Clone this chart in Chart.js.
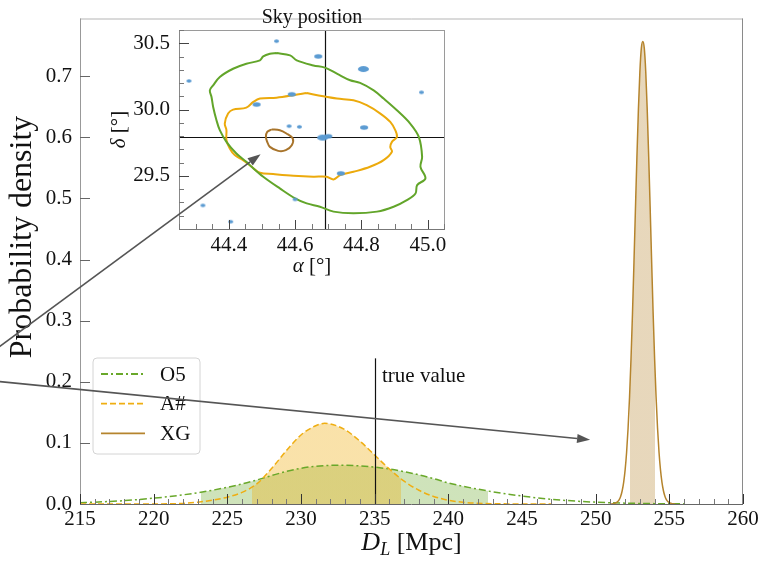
<!DOCTYPE html>
<html>
<head>
<meta charset="utf-8">
<title>Luminosity distance posterior</title>
<script src="https://cdn.jsdelivr.net/npm/chart.js@4.4.1/dist/chart.umd.min.js"></script>
<style>
  html, body { margin: 0; padding: 0; background: #fff; }
  #wrap { position: relative; width: 772px; height: 561px; }
  #wrap canvas { position: absolute; left: 0; top: 0; }
</style>
</head>
<body>
<div id="wrap">
  <canvas id="dlChart" width="772" height="561"></canvas>
  <canvas id="skyChart" width="772" height="561"></canvas>
</div>
<script>
// ---- luminosity distance posteriors (Mpc, density) ----
const o5Dist = [215, 216, 217, 218, 219, 220, 221, 222, 223, 224, 225, 226, 227, 228, 229, 230,
                231, 232, 233, 234, 235, 236, 237, 238, 239, 240, 241, 242, 243, 244, 245, 246,
                247, 248, 249, 250, 251, 252, 253, 254, 255, 256];
const o5Density = [0.0022, 0.0030, 0.0041, 0.0055, 0.0073, 0.0095, 0.0120, 0.0150, 0.0185, 0.0226,
                   0.0273, 0.0328, 0.0393, 0.0465, 0.0533, 0.0585, 0.0617, 0.0632, 0.0634, 0.0623,
                   0.0603, 0.0572, 0.0530, 0.0478, 0.0415, 0.0345, 0.0290, 0.0243, 0.0200, 0.0162,
                   0.0130, 0.0101, 0.0077, 0.0058, 0.0042, 0.0030, 0.0021, 0.0014, 0.0009, 0.0006,
                   0.0004, 0.0002];

const ashDist = [215, 218, 220, 221, 222, 223, 224, 225, 226, 227, 228, 229, 230, 231, 231.6, 232,
                 233, 234, 235, 236, 237, 238, 239, 240, 241, 242, 243, 244, 245, 247];
const ashDensity = [0, 0, 0.0001, 0.0003, 0.0010, 0.0030, 0.0062, 0.0112, 0.0190, 0.0330, 0.0580,
                    0.0870, 0.1130, 0.1280, 0.1320, 0.1311, 0.1213, 0.1029, 0.0801, 0.0572, 0.0374,
                    0.0225, 0.0124, 0.0062, 0.0029, 0.0012, 0.0005, 0.0002, 0.0001, 0];

const xgDist = [251.0, 251.2, 251.3, 251.4, 251.5, 251.6, 251.7, 251.8, 251.9, 252.0, 252.1, 252.2,
                252.3, 252.4, 252.5, 252.6, 252.7, 252.8, 252.9, 253.0, 253.1, 253.2, 253.3, 253.4,
                253.5, 253.6, 253.7, 253.8, 253.9, 254.0, 254.1, 254.2, 254.3, 254.4, 254.5, 254.6,
                254.7, 254.8, 254.9, 255.0, 255.1, 255.2, 255.4];
const xgDensity = [0, 0.0005, 0.0011, 0.0021, 0.0040, 0.0073, 0.0128, 0.0217, 0.0354, 0.0558, 0.0847,
                   0.124, 0.175, 0.238, 0.312, 0.396, 0.483, 0.568, 0.645, 0.707, 0.746, 0.757, 0.746,
                   0.707, 0.645, 0.568, 0.483, 0.396, 0.312, 0.238, 0.175, 0.124, 0.0847, 0.0558,
                   0.0354, 0.0217, 0.0128, 0.0073, 0.0040, 0.0021, 0.0011, 0.0005, 0];

// shaded credible intervals
const o5Interval = [223.2, 242.7];
const ashInterval = [226.7, 236.8];
const xgInterval = [252.3, 254.05];

const trueDistance = 235;
const seriesNames = ['O5', 'A#', 'XG'];
const distTicks = [215, 220, 225, 230, 235, 240, 245, 250, 255, 260];
const densityTicks = [0, 0.1, 0.2, 0.3, 0.4, 0.5, 0.6, 0.7];

// ---- sky localisation contours (deg) ----
const o5Ra = [44.544, 44.585, 44.605, 44.655, 44.690, 44.726, 44.766, 44.796, 44.837, 44.867, 44.907,
              44.947, 44.973, 44.983, 44.978, 44.993, 44.968, 44.963, 44.937, 44.897, 44.847, 44.776,
              44.716, 44.675, 44.635, 44.600, 44.554, 44.504, 44.469, 44.453, 44.423, 44.393, 44.373,
              44.363, 44.353, 44.348, 44.343, 44.353, 44.373, 44.413, 44.453, 44.494, 44.504, 44.524];
const o5Dec = [30.426, 30.409, 30.371, 30.333, 30.316, 30.271, 30.221, 30.201, 30.145, 30.083, 29.995,
               29.895, 29.794, 29.644, 29.569, 29.481, 29.431, 29.368, 29.318, 29.268, 29.231, 29.218,
               29.231, 29.268, 29.293, 29.331, 29.406, 29.494, 29.569, 29.607, 29.669, 29.757, 29.845,
               29.920, 30.020, 30.095, 30.145, 30.183, 30.246, 30.308, 30.346, 30.371, 30.401, 30.421];

const ashRa = [44.635, 44.685, 44.726, 44.776, 44.816, 44.857, 44.887, 44.902, 44.907, 44.892, 44.887,
               44.892, 44.867, 44.826, 44.776, 44.736, 44.716, 44.695, 44.655, 44.595, 44.534, 44.494,
               44.469, 44.443, 44.418, 44.403, 44.393, 44.393, 44.388, 44.398, 44.413, 44.453, 44.474,
               44.494, 44.544, 44.595];
const ashDec = [30.125, 30.100, 30.083, 30.070, 30.033, 29.970, 29.907, 29.845, 29.794, 29.757, 29.719,
                29.682, 29.619, 29.569, 29.531, 29.506, 29.474, 29.494, 29.494, 29.501, 29.514, 29.524,
                29.569, 29.619, 29.657, 29.707, 29.769, 29.845, 29.895, 29.970, 30.000, 30.015, 30.058,
                30.083, 30.090, 30.108];

const xgRa = [44.529, 44.554, 44.574, 44.593, 44.590, 44.572, 44.549, 44.524, 44.516, 44.512, 44.516];
const xgDec = [29.850, 29.845, 29.820, 29.782, 29.732, 29.694, 29.689, 29.719, 29.757, 29.794, 29.832];

// candidate host galaxies
const galaxyRa = [44.544, 44.670, 44.806, 44.280, 44.981, 44.590, 44.484, 44.582, 44.613, 44.808,
                  44.683, 44.700, 44.738, 44.600, 44.322, 44.406];
const galaxyDec = [30.516, 30.401, 30.306, 30.216, 30.130, 30.115, 30.038, 29.875, 29.870, 29.865,
                   29.789, 29.799, 29.519, 29.323, 29.278, 29.155];
const galaxyWeight = [1, 2, 3, 1, 1, 2, 2, 1, 1, 2, 3, 2, 2, 1, 1, 1];

const trueRa = 44.69;
const trueDec = 29.794;
const raTicks = [44.4, 44.6, 44.8, 45.0];
const decTicks = [29.5, 30.0, 30.5];

// ---- styling ----
const FONT = "'Liberation Serif', 'Times New Roman', serif";
const INK = '#111';
const lineColor = { o5: '#69a82a', ash: '#efae12', xg: '#b5842d' };
const fillColor = { o5: 'rgba(105,168,42,0.32)', ash: 'rgba(239,174,18,0.36)', xg: 'rgba(181,132,45,0.32)' };
const contourColor = { o5: '#62a52a', ash: '#ecaa0c', xg: '#a8742b' };
const dash = { o5: [7, 3, 2, 3], ash: [6, 3], xg: [] };

function toPoints(xs, ys) {
    return xs.map((x, i) => ({ x: x, y: ys[i] }));
}

function closedPoints(xs, ys) {
    const pts = toPoints(xs, ys);
    pts.push({ x: xs[0], y: ys[0] });
    return pts;
}

// fill only under [lo, hi] by using a hard-edged horizontal gradient
function bandFill(interval, color) {
    return function(context) {
        const chart = context.chart;
        const area = chart.chartArea;
        if (!area || !chart.scales.x) return 'rgba(255,255,255,0)';
        const xs = chart.scales.x;
        const w = area.right - area.left;
        const p0 = Math.min(Math.max((xs.getPixelForValue(interval[0]) - area.left) / w, 0), 1);
        const p1 = Math.min(Math.max((xs.getPixelForValue(interval[1]) - area.left) / w, 0), 1);
        const g = chart.ctx.createLinearGradient(area.left, 0, area.right, 0);
        const clear = 'rgba(255,255,255,0)';
        g.addColorStop(0, clear);
        g.addColorStop(p0, clear);
        g.addColorStop(p0, color);
        g.addColorStop(p1, color);
        g.addColorStop(p1, clear);
        g.addColorStop(1, clear);
        return g;
    };
}

// draw a list of text runs (different fonts / offsets) one after another
function drawRuns(ctx, runs, x, y, align) {
    let total = 0;
    runs.forEach(r => { ctx.font = r.font; r.w = ctx.measureText(r.text).width; total += r.w; });
    let cx = align === 'center' ? x - total / 2 : x;
    ctx.textAlign = 'left';
    runs.forEach(r => {
        ctx.font = r.font;
        ctx.fillText(r.text, cx, y + (r.dy || 0));
        cx += r.w;
    });
}

function minorValues(scale, step) {
    const out = [];
    const start = Math.ceil(scale.min / step - 1e-6);
    const end = Math.floor(scale.max / step + 1e-6);
    for (let k = start; k <= end; k++) out.push(Math.round(k * step * 1e6) / 1e6);
    return out;
}

// ticks drawn pointing into the plot area
function innerTicks(ctx, scale, values, len, color) {
    const a = scale.chart.chartArea;
    ctx.save();
    ctx.strokeStyle = color;
    ctx.lineWidth = 1;
    ctx.beginPath();
    values.forEach(v => {
        if (scale.isHorizontal()) {
            const px = Math.round(scale.getPixelForValue(v)) + 0.5;
            ctx.moveTo(px, a.bottom);
            ctx.lineTo(px, a.bottom - len);
        } else {
            const py = Math.round(scale.getPixelForValue(v)) + 0.5;
            ctx.moveTo(a.left, py);
            ctx.lineTo(a.left + len, py);
        }
    });
    ctx.stroke();
    ctx.restore();
}

function frameSide(ctx, x0, y0, x1, y1, color) {
    ctx.save();
    ctx.strokeStyle = color;
    ctx.lineWidth = 1;
    ctx.beginPath();
    ctx.moveTo(x0, y0);
    ctx.lineTo(x1, y1);
    ctx.stroke();
    ctx.restore();
}

function drawArrow(ctx, x0, y0, x1, y1) {
    const ang = Math.atan2(y1 - y0, x1 - x0);
    const head = 13, half = 4.5;
    const bx = x1 - head * Math.cos(ang);
    const by = y1 - head * Math.sin(ang);
    ctx.beginPath();
    ctx.moveTo(x0, y0);
    ctx.lineTo(bx, by);
    ctx.stroke();
    ctx.beginPath();
    ctx.moveTo(x1, y1);
    ctx.lineTo(bx + half * Math.sin(ang), by - half * Math.cos(ang));
    ctx.lineTo(bx - half * Math.sin(ang), by + half * Math.cos(ang));
    ctx.closePath();
    ctx.fill();
}

// --- decorations for the distance panel: frame, ticks, marker, legend, axis titles ---
const dlDecor = {
    id: 'dlDecor',
    afterDraw(chart) {
        const { ctx, chartArea: a, scales } = chart;
        const x = scales.x, y = scales.y;

        // true distance marker (spans the lower 30% of the axes)
        const tx = Math.round(x.getPixelForValue(trueDistance)) + 0.5;
        ctx.save();
        ctx.strokeStyle = '#111';
        ctx.lineWidth = 1.2;
        ctx.beginPath();
        ctx.moveTo(tx, a.bottom);
        ctx.lineTo(tx, a.bottom - 0.3 * (a.bottom - a.top));
        ctx.stroke();
        ctx.fillStyle = INK;
        ctx.font = '21px ' + FONT;
        ctx.textBaseline = 'alphabetic';
        ctx.textAlign = 'left';
        ctx.fillText('true value', x.getPixelForValue(trueDistance + 0.5), y.getPixelForValue(0.2));
        ctx.restore();

        // axes frame
        frameSide(ctx, a.left, a.top + 0.5, a.right, a.top + 0.5, '#b5b5b5');
        frameSide(ctx, a.right - 0.5, a.top, a.right - 0.5, a.bottom, '#8a8a8a');
        frameSide(ctx, a.left + 0.5, a.top, a.left + 0.5, a.bottom, '#999');
        frameSide(ctx, a.left, a.bottom + 0.5, a.right, a.bottom + 0.5, '#666');

        innerTicks(ctx, x, minorValues(x, 1).filter(v => distTicks.indexOf(v) < 0), 5, '#777');
        innerTicks(ctx, x, distTicks, 10, '#333');
        innerTicks(ctx, y, densityTicks, 10, '#666');

        // legend box
        const lx = a.left + 13, ly = a.bottom - 146, lw = 107, lh = 96, r = 4;
        ctx.save();
        ctx.beginPath();
        ctx.moveTo(lx + r, ly);
        ctx.arcTo(lx + lw, ly, lx + lw, ly + lh, r);
        ctx.arcTo(lx + lw, ly + lh, lx, ly + lh, r);
        ctx.arcTo(lx, ly + lh, lx, ly, r);
        ctx.arcTo(lx, ly, lx + lw, ly, r);
        ctx.closePath();
        ctx.fillStyle = 'rgba(255,255,255,0.8)';
        ctx.fill();
        ctx.strokeStyle = '#d4d4d4';
        ctx.lineWidth = 1;
        ctx.stroke();
        chart.data.datasets.forEach((ds, i) => {
            const ry = ly + 16 + i * 29.7;
            ctx.strokeStyle = ds.borderColor;
            ctx.lineWidth = 1.8;
            ctx.setLineDash(ds.borderDash || []);
            ctx.beginPath();
            ctx.moveTo(lx + 8, ry);
            ctx.lineTo(lx + 52, ry);
            ctx.stroke();
            ctx.setLineDash([]);
            ctx.fillStyle = INK;
            ctx.font = '21px ' + FONT;
            ctx.textAlign = 'left';
            ctx.textBaseline = 'middle';
            ctx.fillText(ds.label, lx + 67, ry + 1);
        });
        ctx.restore();

        // axis titles
        ctx.save();
        ctx.fillStyle = INK;
        ctx.textBaseline = 'alphabetic';
        drawRuns(ctx, [
            { text: 'D', font: 'italic 26px ' + FONT },
            { text: 'L', font: 'italic 18px ' + FONT, dy: 5 },
            { text: ' [Mpc]', font: '26px ' + FONT }
        ], (a.left + a.right) / 2, a.bottom + 46, 'center');
        ctx.translate(a.left - 57, a.top + 0.45 * (a.bottom - a.top));
        ctx.rotate(-Math.PI / 2);
        ctx.textBaseline = 'middle';
        drawRuns(ctx, [{ text: 'Probability density', font: '32px ' + FONT }], 0, 0, 'center');
        ctx.restore();
    }
};

const mainChart = new Chart(document.getElementById('dlChart'), {
    type: 'line',
    data: {
        datasets: [
            {
                label: seriesNames[0],
                data: toPoints(o5Dist, o5Density),
                borderColor: lineColor.o5,
                borderDash: dash.o5,
                backgroundColor: bandFill(o5Interval, fillColor.o5),
                order: 3
            },
            {
                label: seriesNames[1],
                data: toPoints(ashDist, ashDensity),
                borderColor: lineColor.ash,
                borderDash: dash.ash,
                backgroundColor: bandFill(ashInterval, fillColor.ash),
                order: 2
            },
            {
                label: seriesNames[2],
                data: toPoints(xgDist, xgDensity),
                borderColor: lineColor.xg,
                borderDash: dash.xg,
                backgroundColor: bandFill(xgInterval, fillColor.xg),
                order: 1
            }
        ]
    },
    options: {
        responsive: false,
        animation: false,
        events: [],
        datasets: {
            line: {
                fill: 'origin',
                borderWidth: 1.5,
                pointRadius: 0,
                cubicInterpolationMode: 'monotone'
            }
        },
        layout: { padding: { top: 5, right: 29, left: 0, bottom: 0 } },
        plugins: {
            legend: { display: false },
            tooltip: { enabled: false },
            filler: { drawTime: 'beforeDatasetsDraw', propagate: false }
        },
        scales: {
            x: {
                type: 'linear',
                min: 215,
                max: 260,
                afterBuildTicks: s => { s.ticks = distTicks.map(v => ({ value: v })); },
                afterFit: s => { s.height = 57; },
                grid: { display: false, drawTicks: false },
                border: { display: false },
                ticks: {
                    autoSkip: false,
                    maxRotation: 0,
                    padding: 5,
                    color: INK,
                    font: { family: FONT, size: 21, lineHeight: 1 },
                    callback: v => String(v)
                }
            },
            y: {
                type: 'linear',
                min: 0,
                max: 0.7945,
                afterBuildTicks: s => { s.ticks = densityTicks.map(v => ({ value: v })); },
                afterFit: s => { s.width = 80; },
                grid: { display: false, drawTicks: false },
                border: { display: false },
                ticks: {
                    padding: 8,
                    color: INK,
                    font: { family: FONT, size: 21, lineHeight: 1 },
                    callback: v => v.toFixed(1)
                }
            }
        }
    },
    plugins: [dlDecor]
});

// --- sky inset ---
function ellipseDot(w, h, color) {
    const c = document.createElement('canvas');
    c.width = Math.ceil(w) + 2;
    c.height = Math.ceil(h) + 2;
    const g = c.getContext('2d');
    g.fillStyle = color;
    g.beginPath();
    g.ellipse(c.width / 2, c.height / 2, w / 2, h / 2, 0, 0, Math.PI * 2);
    g.fill();
    return c;
}
const galaxyDots = {
    1: ellipseDot(5, 3.5, '#5b9bd2'),
    2: ellipseDot(8, 4.5, '#5b9bd2'),
    3: ellipseDot(11, 6, '#5b9bd2')
};

const skyDecor = {
    id: 'skyDecor',
    beforeDatasetsDraw(chart) {
        const { ctx, chartArea: a, scales } = chart;
        const px = Math.round(scales.x.getPixelForValue(trueRa)) + 0.5;
        const py = Math.round(scales.y.getPixelForValue(trueDec)) + 0.5;
        ctx.save();
        ctx.strokeStyle = '#111';
        ctx.lineWidth = 1.2;
        ctx.beginPath();
        ctx.moveTo(px, a.top);
        ctx.lineTo(px, a.bottom);
        ctx.moveTo(a.left, py);
        ctx.lineTo(a.right, py);
        ctx.stroke();
        ctx.restore();
    },
    afterDraw(chart) {
        const { ctx, chartArea: a, scales } = chart;
        const x = scales.x, y = scales.y;

        frameSide(ctx, a.left, a.top + 0.5, a.right, a.top + 0.5, '#9a9a9a');
        frameSide(ctx, a.right - 0.5, a.top, a.right - 0.5, a.bottom, '#9a9a9a');
        frameSide(ctx, a.left + 0.5, a.top, a.left + 0.5, a.bottom, '#888');
        frameSide(ctx, a.left, a.bottom + 0.5, a.right, a.bottom + 0.5, '#777');

        innerTicks(ctx, x, minorValues(x, 0.05).filter(v => raTicks.indexOf(v) < 0), 5, '#777');
        innerTicks(ctx, x, raTicks, 9, '#444');
        innerTicks(ctx, y, minorValues(y, 0.1).filter(v => decTicks.indexOf(v) < 0), 5, '#777');
        innerTicks(ctx, y, decTicks, 10, '#444');

        ctx.save();
        ctx.fillStyle = INK;
        ctx.textBaseline = 'alphabetic';
        drawRuns(ctx, [
            { text: '\u03b1', font: 'italic 21px ' + FONT },
            { text: ' [\u00b0]', font: '21px ' + FONT }
        ], (a.left + a.right) / 2, a.bottom + 43, 'center');
        ctx.translate(a.left - 54, (a.top + a.bottom) / 2);
        ctx.rotate(-Math.PI / 2);
        drawRuns(ctx, [
            { text: '\u03b4', font: 'italic 21px ' + FONT },
            { text: ' [\u00b0]', font: '21px ' + FONT }
        ], 0, 0, 'center');
        ctx.restore();

        // arrows from the distance panel to the sky contour and to the XG peak
        const mx = mainChart.scales.x, my = mainChart.scales.y;
        const tailX = mx.getPixelForValue(206.7), tailY = my.getPixelForValue(0.207);
        ctx.save();
        ctx.strokeStyle = '#555';
        ctx.fillStyle = '#555';
        ctx.lineWidth = 1.6;
        drawArrow(ctx, tailX, tailY, x.getPixelForValue(44.496), y.getPixelForValue(29.664));
        drawArrow(ctx, tailX, tailY, mx.getPixelForValue(249.62), my.getPixelForValue(0.105));
        ctx.restore();
    }
};

const skyChart = new Chart(document.getElementById('skyChart'), {
    type: 'scatter',
    data: {
        datasets: [
            {
                label: 'galaxies',
                data: toPoints(galaxyRa, galaxyDec),
                pointStyle: c => galaxyDots[galaxyWeight[c.dataIndex]],
                pointRadius: 3,
                showLine: false,
                order: 0
            },
            {
                label: seriesNames[0],
                data: closedPoints(o5Ra, o5Dec),
                borderColor: contourColor.o5,
                order: 1
            },
            {
                label: seriesNames[1],
                data: closedPoints(ashRa, ashDec),
                borderColor: contourColor.ash,
                order: 1
            },
            {
                label: seriesNames[2],
                data: closedPoints(xgRa, xgDec),
                borderColor: contourColor.xg,
                order: 1
            }
        ]
    },
    options: {
        responsive: false,
        animation: false,
        events: [],
        datasets: {
            scatter: {
                showLine: true,
                borderWidth: 2,
                pointRadius: 0,
                tension: 0.35,
                fill: false
            }
        },
        layout: { padding: { left: 119, right: 327, top: 0, bottom: 292 } },
        plugins: {
            legend: { display: false },
            tooltip: { enabled: false },
            title: {
                display: true,
                text: 'Sky position',
                fullSize: false,
                color: INK,
                font: { family: FONT, size: 20, weight: 'normal', lineHeight: 1.2 },
                padding: { top: 6, bottom: 0 }
            }
        },
        scales: {
            x: {
                type: 'linear',
                min: 44.25,
                max: 45.052,
                afterBuildTicks: s => { s.ticks = raTicks.map(v => ({ value: v })); },
                afterFit: s => { s.height = 40; },
                grid: { display: false, drawTicks: false },
                border: { display: false },
                ticks: {
                    autoSkip: false,
                    maxRotation: 0,
                    padding: 6,
                    color: INK,
                    font: { family: FONT, size: 21, lineHeight: 1 },
                    callback: v => v.toFixed(1)
                }
            },
            y: {
                type: 'linear',
                min: 29.1,
                max: 30.6,
                afterBuildTicks: s => { s.ticks = decTicks.map(v => ({ value: v })); },
                afterFit: s => { s.width = 60; },
                grid: { display: false, drawTicks: false },
                border: { display: false },
                ticks: {
                    padding: 9,
                    color: INK,
                    font: { family: FONT, size: 21, lineHeight: 1 },
                    callback: v => v.toFixed(1)
                }
            }
        }
    },
    plugins: [skyDecor]
});
</script>
</body>
</html>
